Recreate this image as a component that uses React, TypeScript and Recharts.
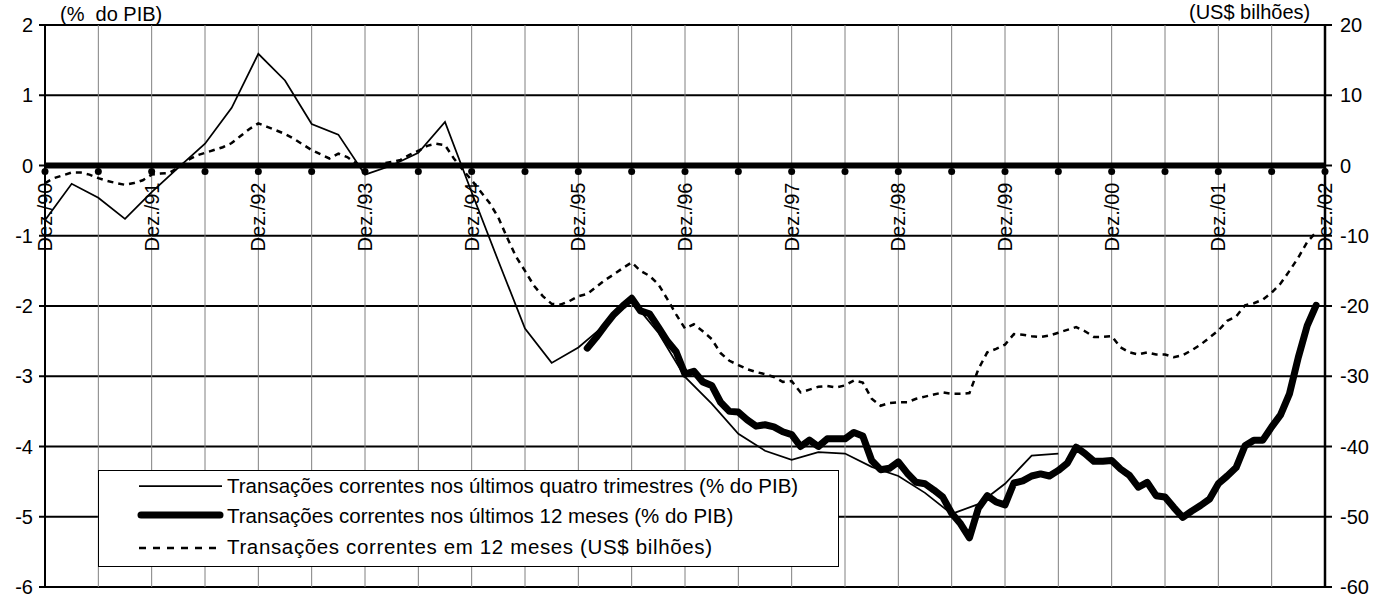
import React from "react";
import {
  LineChart,
  Line,
  XAxis,
  YAxis,
  CartesianGrid,
  ReferenceLine,
  ReferenceDot,
} from "recharts";

const W = 1381;
const H = 597;
const FONT = '"Liberation Sans", Arial, Helvetica, sans-serif';

// Month index 0 = Dez./90, 144 = Dez./02
const yearLabels = [
  "Dez./90", "Dez./91", "Dez./92", "Dez./93", "Dez./94", "Dez./95", "Dez./96",
  "Dez./97", "Dez./98", "Dez./99", "Dez./00", "Dez./01", "Dez./02",
];
const semesterMonths = [
  0, 6, 12, 18, 24, 30, 36, 42, 48, 54, 60, 66, 72,
  78, 84, 90, 96, 102, 108, 114, 120, 126, 132, 138, 144,
];
const pctTicks = [-6, -5, -4, -3, -2, -1, 0, 1, 2];
const usdTicks = [-60, -50, -40, -30, -20, -10, 0, 10, 20];

// Transações correntes nos últimos quatro trimestres (% do PIB) — one value per quarter
const quarterlyStart = 0;
const quarterlyStep = 3;
const quarterlyPct = [
  -0.78, -0.26, -0.46, -0.76, -0.38, -0.03, 0.31, 0.82, 1.59, 1.21,
  0.59, 0.44, -0.13, 0.0, 0.18, 0.62, -0.38, -1.36, -2.32, -2.81,
  -2.59, -2.27, -1.92, -2.38, -3.01, -3.39, -3.82, -4.06, -4.19, -4.08,
  -4.1, -4.29, -4.42, -4.66, -4.96, -4.82, -4.53, -4.13, -4.1,
];

// Transações correntes nos últimos 12 meses (% do PIB) — monthly, from Jan./96
const monthlyPctStart = 61;
const monthlyPct = [
  -2.6, -2.45, -2.28, -2.12, -2.0, -1.89, -2.07, -2.11, -2.3, -2.5,
  -2.65, -2.97, -2.93, -3.08, -3.13, -3.37, -3.5, -3.51, -3.62, -3.71,
  -3.69, -3.72, -3.79, -3.83, -4.0, -3.91, -4.0, -3.89, -3.89, -3.89,
  -3.8, -3.85, -4.2, -4.33, -4.31, -4.22, -4.38, -4.51, -4.53, -4.62,
  -4.72, -4.95, -5.1, -5.3, -4.88, -4.7, -4.79, -4.83, -4.52, -4.49,
  -4.42, -4.39, -4.42, -4.34, -4.24, -4.01, -4.1, -4.21, -4.21, -4.2,
  -4.32, -4.41, -4.58, -4.51, -4.7, -4.72, -4.87, -5.01, -4.92, -4.84,
  -4.75, -4.53, -4.42, -4.3, -3.99, -3.91, -3.91, -3.72, -3.55, -3.25,
  -2.73, -2.28, -1.99,
];

// Transações correntes em 12 meses (US$ bilhões) — monthly, from Dez./90
const monthlyUsdStart = 0;
const monthlyUsd = [
  -2.5, -1.8, -1.4, -1.0, -1.0, -1.3, -1.8, -2.2, -2.5, -2.75,
  -2.5, -2.1, -1.3, -1.15, -1.05, -0.3, 0.7, 1.4, 1.8, 2.2,
  2.6, 3.2, 4.2, 5.2, 6.0, 5.5, 5.0, 4.5, 3.8, 3.0,
  2.2, 1.6, 1.0, 1.7, 1.2, 0.3, -0.2, 0.0, 0.3, 0.5,
  0.8, 1.5, 2.1, 2.8, 3.1, 2.9, 1.0, -0.6, -2.1, -3.7,
  -5.3, -7.4, -10.3, -13.0, -15.0, -17.1, -18.6, -19.7, -19.8, -19.3,
  -18.6, -18.3, -17.3, -16.3, -15.5, -14.6, -13.8, -15.0, -15.7, -16.9,
  -19.0, -21.2, -23.2, -22.6, -23.6, -24.7, -26.7, -27.8, -28.4, -29.0,
  -29.4, -29.7, -30.1, -30.8, -30.7, -32.3, -31.9, -31.5, -31.4, -31.6,
  -31.3, -30.6, -30.9, -33.2, -34.2, -33.8, -33.7, -33.7, -33.2, -32.9,
  -32.6, -32.3, -32.5, -32.5, -32.4, -29.0, -26.6, -26.1, -25.5, -24.0,
  -24.1, -24.3, -24.4, -24.2, -23.8, -23.4, -23.0, -23.6, -24.4, -24.4,
  -24.3, -25.9, -26.6, -26.9, -26.6, -26.9, -26.9, -27.3, -27.0, -26.3,
  -25.5, -24.5, -23.5, -22.1, -21.5, -19.9, -19.6, -19.1, -18.1, -16.8,
  -15.0, -13.1, -10.9, -9.5,
];

const quarterlyData = quarterlyPct.map((v, i) => ({ m: quarterlyStart + i * quarterlyStep, v }));
const monthlyPctData = monthlyPct.map((v, i) => ({ m: monthlyPctStart + i, v }));
const monthlyUsdData = monthlyUsd.map((v, i) => ({ m: monthlyUsdStart + i, v }));

const legendItems = [
  "Transações correntes nos últimos quatro trimestres (% do PIB)",
  "Transações correntes nos últimos 12 meses (% do PIB)",
  "Transações correntes em 12 meses (US$ bilhões)",
];

// Dot below the zero axis at every semester, with the rotated year label in December
const AxisMark = (props: any) => {
  const { cx, cy, label } = props;
  if (cx == null || cy == null) return null;
  return (
    <g>
      <circle cx={cx} cy={cy + 6} r={3.5} fill="#000" />
      {label ? (
        <text
          transform={`translate(${cx},${cy + 17}) rotate(-90)`}
          textAnchor="end"
          dominantBaseline="central"
          fontSize={20}
          fontFamily={FONT}
          fill="#000"
        >
          {label}
        </text>
      ) : null}
    </g>
  );
};

export default function App() {
  return (
    <div
      style={{
        position: "absolute",
        left: 0,
        top: 0,
        width: W,
        height: H,
        background: "#fff",
        fontFamily: FONT,
      }}
    >
      <LineChart width={W} height={H} margin={{ top: 25, right: 0, bottom: 10, left: 0 }}>
        <XAxis type="number" dataKey="m" domain={[0, 144]} hide allowDataOverflow />
        <YAxis
          width={45}
          domain={[-6, 2]}
          ticks={pctTicks}
          interval={0}
          allowDataOverflow
          axisLine={{ stroke: "#000", strokeWidth: 2 }}
          tickLine={{ stroke: "#000", strokeWidth: 2 }}
          tickSize={6}
          tickMargin={6}
          tick={{ fill: "#000", fontSize: 20, fontFamily: FONT }}
        />
        <YAxis
          yAxisId="usd"
          orientation="right"
          width={56}
          domain={[-60, 20]}
          ticks={usdTicks}
          interval={0}
          allowDataOverflow
          axisLine={{ stroke: "#000", strokeWidth: 2.5 }}
          tickLine={{ stroke: "#000", strokeWidth: 2 }}
          tickSize={7}
          tickMargin={8}
          tick={{ fill: "#000", fontSize: 20, fontFamily: FONT }}
        />
        {semesterMonths.map((m) => (
          <ReferenceLine key={`v${m}`} x={m} stroke="#808080" strokeWidth={1} />
        ))}
        <CartesianGrid vertical={false} stroke="#000" strokeWidth={2} />
        <ReferenceLine y={0} stroke="#000" strokeWidth={6} />
        <Line
          data={monthlyUsdData}
          yAxisId="usd"
          dataKey="v"
          type="linear"
          stroke="#000"
          strokeWidth={2.5}
          strokeDasharray="6 5"
          dot={false}
          activeDot={false}
          isAnimationActive={false}
        />
        <Line
          data={quarterlyData}
          dataKey="v"
          type="linear"
          stroke="#000"
          strokeWidth={1.75}
          dot={false}
          activeDot={false}
          isAnimationActive={false}
        />
        <Line
          data={monthlyPctData}
          dataKey="v"
          type="linear"
          stroke="#000"
          strokeWidth={7}
          strokeLinejoin="round"
          strokeLinecap="round"
          dot={false}
          activeDot={false}
          isAnimationActive={false}
        />
        {semesterMonths.map((m) => (
          <ReferenceDot
            key={`d${m}`}
            x={m}
            y={0}
            r={3.5}
            shape={(p: any) => (
              <AxisMark {...p} label={m % 12 === 0 ? yearLabels[m / 12] : null} />
            )}
          />
        ))}
      </LineChart>
      <svg
        width={W}
        height={H}
        style={{ position: "absolute", left: 0, top: 0, pointerEvents: "none" }}
        fontFamily={FONT}
      >
        <text x={60} y={21} fontSize={20} fill="#000" style={{ whiteSpace: "pre" }}>
          {"(%  do PIB)"}
        </text>
        <text x={1189} y={19} fontSize={20} fill="#000">
          (US$ bilhões)
        </text>
        <rect x={98.5} y={470.5} width={740} height={96} fill="#fff" stroke="#000" strokeWidth={1} />
        <line x1={139} x2={222} y1={486} y2={486} stroke="#000" strokeWidth={1.75} />
        <line x1={141} x2={220} y1={515} y2={515} stroke="#000" strokeWidth={7} strokeLinecap="round" />
        <line x1={139} x2={222} y1={548} y2={548} stroke="#000" strokeWidth={2.5} strokeDasharray="7 7" />
        <text x={227} y={493} fontSize={20.5} fill="#000">
          {legendItems[0]}
        </text>
        <text x={227} y={523} fontSize={20.5} fill="#000">
          {legendItems[1]}
        </text>
        <text x={227} y={553.5} fontSize={20.5} fill="#000" textLength={485} lengthAdjust="spacing">
          {legendItems[2]}
        </text>
      </svg>
    </div>
  );
}
